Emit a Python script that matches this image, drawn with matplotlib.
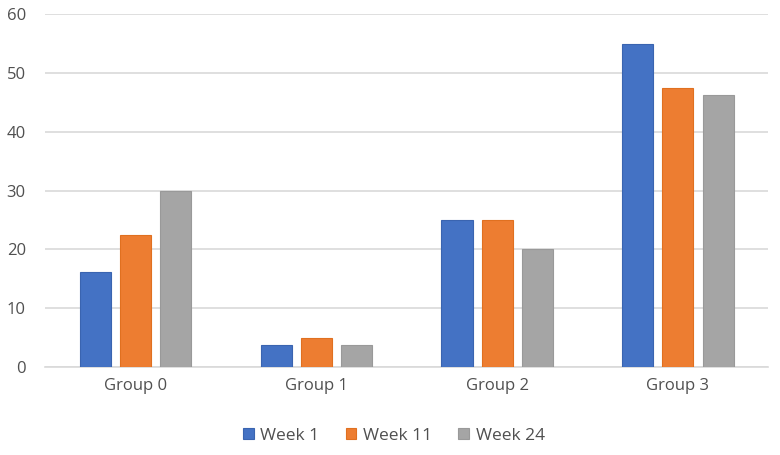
import numpy as np
import matplotlib.pyplot as plt

groups = ['Group 0', 'Group 1', 'Group 2', 'Group 3']
week1 = [16.25, 3.75, 25, 55]
week11 = [22.5, 5, 25, 47.5]
week24 = [30, 3.75, 20, 46.3]
labels = ['Week 1', 'Week 11', 'Week 24']
colors = ['#4472C4', '#ED7D31', '#A5A5A5']
edges = ['#3A64B0', '#E07020', '#999999']

plt.rcParams['font.family'] = ['Open Sans', 'DejaVu Sans']

fig = plt.figure(figsize=(7.8, 4.55), dpi=100)
ax = fig.add_axes([0.058, 0.193, 0.927, 0.776])

x = np.arange(len(groups))
w = 0.172
step = 0.222
for i, vals in enumerate([week1, week11, week24]):
    ax.bar(x + (i - 1) * step, vals, width=w, color=colors[i],
           edgecolor=edges[i], linewidth=0.8, label=labels[i], zorder=3)

ax.set_xlim(-0.5, 3.5)
ax.set_ylim(0, 60)
ax.set_yticks(range(0, 61, 10))
ax.set_xticks(x)
ax.set_xticklabels(groups)
ax.grid(axis='y', color='#D9D9D9', linewidth=1.2, zorder=0)
for s in ['top', 'right', 'left']:
    ax.spines[s].set_visible(False)
ax.spines['bottom'].set_color('#D9D9D9')
ax.spines['bottom'].set_linewidth(1.2)
ax.tick_params(length=0, labelsize=12, colors='#505050', pad=8)
ax.tick_params(axis='y', pad=14)

leg = fig.legend(loc='lower center', bbox_to_anchor=(0.505, -0.01), ncol=3,
                 frameon=False, fontsize=12.5, handlelength=0.6, handleheight=0.6,
                 handletextpad=0.4, columnspacing=1.5, labelcolor='#505050')

fig.savefig('out.png')
